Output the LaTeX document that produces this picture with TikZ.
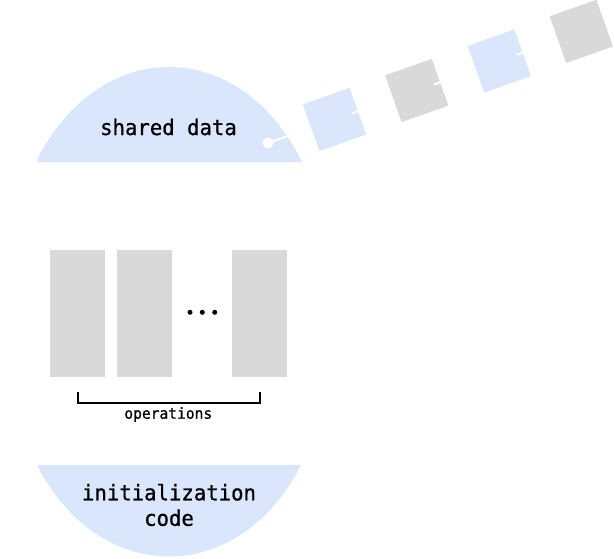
\documentclass[tikz,border=0pt]{standalone}
\usepackage{fontspec}
\newfontfamily\mono[FakeStretch=0.96,FakeBold=0.8]{DejaVu Sans Mono}
\usetikzlibrary{calc}
\definecolor{lblue}{HTML}{DAE6FC}
\definecolor{lgray}{HTML}{D9D9D9}
\tikzset{
  blob/.style={fill=lblue, draw=none},
  block/.style={fill=lgray, draw=none, minimum width=55pt, minimum height=127.3pt, inner sep=0pt},
  cell/.style={draw=none, minimum size=49.6pt, inner sep=0pt, rotate=19.5},
  bluecell/.style={cell, fill=lblue},
  graycell/.style={cell, fill=lgray},
  link/.style={white, line width=2pt},
  bigtext/.style={font=\mono\fontsize{21.5}{25.5}\selectfont, align=center, inner sep=0pt},
  smalltext/.style={font=\mono\fontsize{15.2}{17}\selectfont, inner sep=0pt},
  dot/.style={circle, fill=black, minimum size=5pt, inner sep=0pt}
}
\begin{document}
\begin{tikzpicture}[x=1pt, y=-1pt]
\useasboundingbox (0,0) rectangle (614,558);
% shared data blob
\fill[blob] (36,162) .. controls (98,35.33) and (240,35.33) .. (302,162) -- cycle;
\node[bigtext] (shared) at (168.5,127) {shared data};
% initialization blob
\fill[blob] (37,465) .. controls (99,587) and (239,587) .. (301,465) -- cycle;
\node[bigtext] (init) at (169,505) {initialization\\code};
% linked cells
\node[circle, fill=white, minimum size=11pt, inner sep=0pt] (head) at (268,143) {};
\coordinate (c1) at (334.5,119.5);
\coordinate (c2) at (416.7,90.5);
\coordinate (c3) at (499.3,61);
\coordinate (c4) at (581.3,31.4);
\draw[link] (head.center) -- (c1);
\node[bluecell] (s1) at (c1) {};
\draw[link] ($(s1.center)!0.73!(s1.east)$) -- (c2);
\node[graycell] (s2) at (c2) {};
\draw[link] ($(s2.center)!0.73!(s2.east)$) -- (c3);
\node[bluecell] (s3) at (c3) {};
\draw[link] ($(s3.center)!0.73!(s3.east)$) -- (c4);
\node[graycell] (s4) at (c4) {};
% operations
\node[block] (op1) at (77.5,313.7) {};
\node[block] (op2) at (144.8,313.7) {};
\node[block] (op3) at (259.8,313.7) {};
\node[dot] (d1) at (190,312.3) {};
\node[dot] (d2) at (202.3,312.3) {};
\node[dot] (d3) at (214.7,312.3) {};
\draw[line width=2pt] ($(op1.south)+(0,14.4)$) -- ($(op1.south)+(0,25.4)$) -- ($(op3.south)+(0,25.4)$) -- ($(op3.south)+(0,14.4)$);
\node[smalltext] (ops) at (168.3,414.5) {operations};
\end{tikzpicture}
\end{document}
